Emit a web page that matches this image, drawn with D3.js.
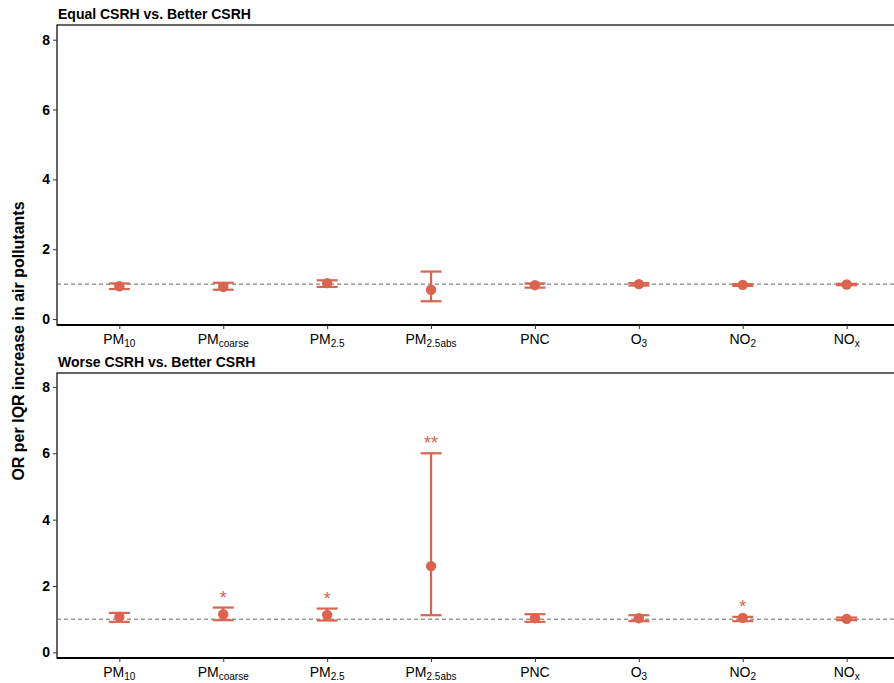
<!DOCTYPE html>
<html>
<head>
<meta charset="utf-8">
<script src="https://cdn.jsdelivr.net/npm/d3@7"></script>
<style>
  body { margin: 0; background: #fff; }
  svg { font-family: "Liberation Sans", Arial, sans-serif; }
</style>
</head>
<body>
<svg id="chart" width="894" height="683"></svg>
<script>
// pollutant names: base text + subscript
const pollutants = ["PM10", "PMcoarse", "PM2.5", "PM2.5abs", "PNC", "O3", "NO2", "NOx"];
const labelBase = ["PM", "PM", "PM", "PM", "PNC", "O", "NO", "NO"];
const labelSub = ["10", "coarse", "2.5", "2.5abs", "", "3", "2", "x"];

// Equal CSRH vs. Better CSRH
const equalOR = [0.94, 0.92, 1.03, 0.84, 0.97, 1.00, 0.98, 0.99];
const equalLo = [0.86, 0.84, 0.92, 0.51, 0.90, 0.96, 0.95, 0.97];
const equalHi = [1.02, 1.04, 1.11, 1.36, 1.02, 1.03, 1.00, 1.01];
const equalSig = ["", "", "", "", "", "", "", ""];

// Worse CSRH vs. Better CSRH
const worseOR = [1.07, 1.15, 1.13, 2.60, 1.03, 1.03, 1.04, 1.01];
const worseLo = [0.92, 0.97, 0.96, 1.12, 0.92, 0.94, 0.94, 0.97];
const worseHi = [1.19, 1.35, 1.32, 6.00, 1.15, 1.12, 1.07, 1.05];
const worseSig = ["", "*", "*", "**", "", "", "*", ""];

const yTicks = [0, 2, 4, 6, 8];
const col = "#DA6450";

const svg = d3.select("#chart");
const left = 57, right = 909;

const x = d3.scalePoint().domain(pollutants).range([left, right]).padding(0.6);

svg.append("defs").append("clipPath").attr("id", "clip")
  .append("rect").attr("x", 0).attr("y", 0).attr("width", 894).attr("height", 683);

function drawPanel(top, bottom, title, or, lo, hi, sig) {
  const g = svg.append("g").attr("clip-path", "url(#clip)");
  const y = d3.scaleLinear().domain([-0.17, 8.42]).range([bottom, top]);

  // panel frame
  g.append("rect")
    .attr("x", left).attr("y", top)
    .attr("width", right - left).attr("height", bottom - top)
    .attr("fill", "none").attr("stroke", "#000").attr("stroke-width", 1.2);

  // reference line at OR = 1
  g.append("line")
    .attr("x1", left).attr("x2", right)
    .attr("y1", y(1)).attr("y2", y(1))
    .attr("stroke", "#555").attr("stroke-width", 0.9)
    .attr("stroke-dasharray", "4,3");

  // y axis
  const yAxis = g.append("g")
    .attr("transform", `translate(${left},0)`)
    .call(d3.axisLeft(y).tickValues(yTicks).tickSize(4).tickPadding(3));
  yAxis.select(".domain").remove();
  yAxis.selectAll("line").attr("stroke", "#333");
  yAxis.selectAll("text")
    .attr("font-size", 14).attr("font-weight", "bold").attr("fill", "#000")
    .attr("font-family", "Liberation Sans, Arial, sans-serif");

  // x axis
  const xAxis = g.append("g")
    .attr("transform", `translate(0,${bottom})`)
    .call(d3.axisBottom(x).tickSize(4).tickFormat(""));
  xAxis.select(".domain").attr("stroke", "#000").attr("stroke-width", 2)
    .attr("d", `M${left},0H${right}`);
  xAxis.selectAll(".tick line").attr("stroke", "#333");

  const lab = g.append("g").selectAll("text")
    .data(pollutants).enter().append("text")
    .attr("x", d => x(d))
    .attr("y", bottom + 19)
    .attr("text-anchor", "middle")
    .attr("font-size", 14).attr("fill", "#000");
  lab.append("tspan").text((d, i) => labelBase[i]);
  lab.append("tspan")
    .attr("font-size", 10).attr("dy", 3)
    .text((d, i) => labelSub[i]);

  // error bars
  const eb = g.append("g").attr("stroke", col).attr("stroke-width", 2.2);
  eb.selectAll(".v").data(pollutants).enter().append("line")
    .attr("x1", d => x(d)).attr("x2", d => x(d))
    .attr("y1", (d, i) => y(lo[i])).attr("y2", (d, i) => y(hi[i]));
  eb.selectAll(".capH").data(pollutants).enter().append("line")
    .attr("x1", d => x(d) - 10.5).attr("x2", d => x(d) + 10.5)
    .attr("y1", (d, i) => y(hi[i])).attr("y2", (d, i) => y(hi[i]));
  eb.selectAll(".capL").data(pollutants).enter().append("line")
    .attr("x1", d => x(d) - 10.5).attr("x2", d => x(d) + 10.5)
    .attr("y1", (d, i) => y(lo[i])).attr("y2", (d, i) => y(lo[i]));

  // points
  g.append("g").selectAll("circle").data(pollutants).enter().append("circle")
    .attr("cx", d => x(d)).attr("cy", (d, i) => y(or[i]))
    .attr("r", 5.2).attr("fill", col);

  // significance stars
  g.append("g").selectAll("text").data(pollutants).enter().append("text")
    .attr("x", d => x(d))
    .attr("y", (d, i) => y(hi[i]) - 4)
    .attr("text-anchor", "middle")
    .attr("font-size", 18).attr("fill", col)
    .text((d, i) => sig[i]);

  // title
  svg.append("text")
    .attr("x", left + 1).attr("y", top - 6)
    .attr("font-size", 14).attr("font-weight", "bold").attr("fill", "#000")
    .text(title);
}

drawPanel(25, 325, "Equal CSRH vs. Better CSRH", equalOR, equalLo, equalHi, equalSig);
drawPanel(373, 658, "Worse CSRH vs. Better CSRH", worseOR, worseLo, worseHi, worseSig);

svg.append("text")
  .attr("transform", "translate(24,341) rotate(-90)")
  .attr("text-anchor", "middle")
  .attr("font-size", 16).attr("font-weight", "bold").attr("fill", "#000")
  .text("OR per IQR increase in air pollutants");
</script>
</body>
</html>
